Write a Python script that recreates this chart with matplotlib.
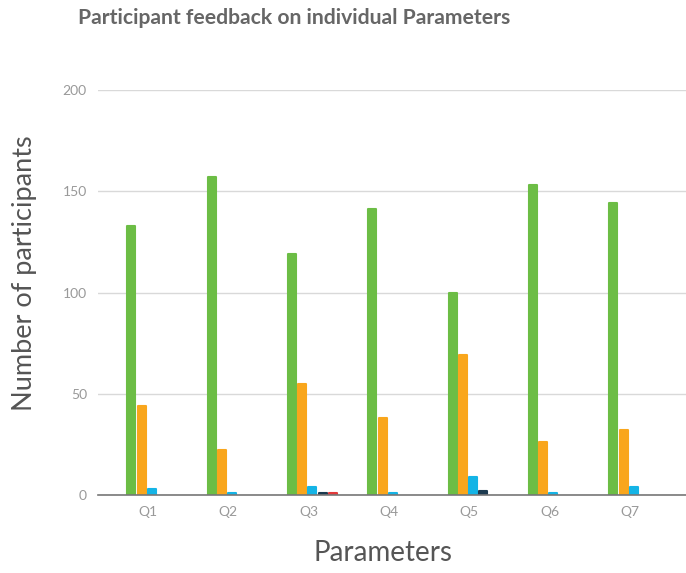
import numpy as np
import matplotlib
matplotlib.use("Agg")
import matplotlib.pyplot as plt

categories = ["Q1", "Q2", "Q3", "Q4", "Q5", "Q6", "Q7"]
green = [133, 157, 119, 141, 100, 153, 144]
orange = [44, 22, 55, 38, 69, 26, 32]
blue = [3, 1, 4, 1, 9, 1, 4]
navy = [0, 0, 1, 0, 2, 0, 0]
red = [0, 0, 1, 0, 0, 0, 0]

series = [green, orange, blue, navy, red]
colors = ["#6cbd45", "#f9a61c", "#14b4e6", "#1c3a4f", "#e2393a"]

plt.rcParams["font.family"] = ["Lato", "DejaVu Sans"]

fig = plt.figure(figsize=(6.86, 5.73), dpi=100)
ax = fig.add_axes([98 / 686, 78 / 573, 588 / 686, 405 / 573])

x = np.arange(len(categories))
step = 0.127
width = 0.1
for i, (vals, c) in enumerate(zip(series, colors)):
    lw = [1.5 if v > 0 else 0 for v in vals]
    ax.bar(x + (i - 2) * step + 0.05, vals, width=width, color=c,
           edgecolor=c, linewidth=lw, joinstyle="round", zorder=3)

ax.set_xlim(-0.62, 6.70)
ax.set_ylim(0, 200)
ax.set_yticks([0, 50, 100, 150, 200])
ax.set_xticks(x)
ax.set_xticklabels(categories)
ax.yaxis.grid(True, color="#d9d9d9", linewidth=1)
ax.set_axisbelow(True)
for s in ["top", "right", "left"]:
    ax.spines[s].set_visible(False)
ax.spines["bottom"].set_color("#777777")
ax.spines["bottom"].set_linewidth(1.2)
ax.spines["bottom"].set_zorder(4)
ax.tick_params(axis="both", length=0, labelsize=10, labelcolor="#999999")
ax.tick_params(axis="x", pad=8)
ax.tick_params(axis="y", pad=8)

fig.text(294 / 686, 1 - 18 / 573, "Participant feedback on individual Parameters",
         ha="center", va="center", fontsize=15.2, fontweight="bold", color="#666666")
fig.text(25 / 686, 1 - 273 / 573, "Number of participants", rotation=90,
         ha="center", va="center", fontsize=19.5, color="#555555")
fig.text(383 / 686, 1 - 553 / 573, "Parameters",
         ha="center", va="center", fontsize=20, color="#555555")

fig.savefig("out.png", dpi=100)
